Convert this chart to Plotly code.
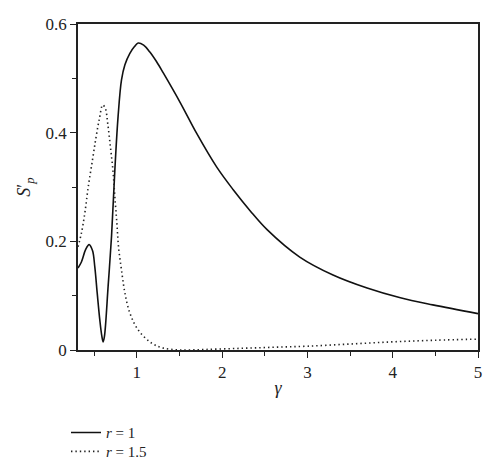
import plotly.graph_objects as go

# r = 1 (solid)
gamma_r1 = [0.31, 0.35, 0.40, 0.44, 0.48, 0.507, 0.535, 0.566, 0.59, 0.605, 0.62, 0.663, 0.703,
            0.742, 0.78, 0.82, 0.86, 0.918, 0.97, 1.015, 1.08, 1.15, 1.23, 1.31, 1.51, 1.70, 1.935,
            2.13, 2.33, 2.53, 2.91, 3.30, 3.70, 4.09, 4.47, 5.0]
sp_r1 = [0.151, 0.162, 0.185, 0.194, 0.183, 0.153, 0.105, 0.055, 0.025, 0.015, 0.025, 0.117, 0.209,
         0.331, 0.43, 0.497, 0.525, 0.546, 0.558, 0.565, 0.561, 0.549, 0.531, 0.51, 0.455, 0.399, 0.337,
         0.295, 0.256, 0.221, 0.171, 0.138, 0.114, 0.096, 0.083, 0.067]

# r = 1.5 (dotted)
gamma_r15 = [0.31, 0.35, 0.39, 0.43, 0.48, 0.52, 0.56, 0.60, 0.63, 0.66, 0.69, 0.72, 0.742,
             0.766, 0.785, 0.82, 0.86, 0.918, 1.015, 1.17, 1.30, 1.5, 1.8, 2.2, 2.6, 3.0, 3.5,
             4.0, 4.5, 5.0]
sp_r15 = [0.19, 0.215, 0.252, 0.30, 0.35, 0.39, 0.425, 0.451, 0.445, 0.415, 0.374, 0.33, 0.282,
          0.233, 0.19, 0.147, 0.105, 0.068, 0.037, 0.013, 0.004, 0.0, 0.001, 0.003, 0.005, 0.007,
          0.011, 0.015, 0.018, 0.02]

x_ticks = [1, 2, 3, 4, 5]
y_ticks = [0, 0.2, 0.4, 0.6]
y_tick_text = ["0", "0.2", "0.4", "0.6"]

FONT = "Liberation Serif, Times New Roman, serif"

fig = go.Figure()
fig.add_trace(go.Scatter(x=gamma_r1, y=sp_r1, mode="lines", name="<i>r</i> = 1", legend="legend",
                         line=dict(color="#111111", width=1.6, shape="spline", smoothing=1.0)))
fig.add_trace(go.Scatter(x=gamma_r15, y=sp_r15, mode="lines", name="<i>r</i> = 1.5", legend="legend2",
                         line=dict(color="#222222", width=1.6, dash="1.4px,3px", shape="spline", smoothing=1.0)))

legend_style = dict(xanchor="left", yanchor="top",
                    font=dict(family=FONT, size=15, color="#222222"),
                    bgcolor="rgba(0,0,0,0)", itemwidth=30)

fig.update_layout(
    width=492, height=467,
    margin=dict(l=70, r=22, t=16, b=125, autoexpand=False),
    paper_bgcolor="white", plot_bgcolor="white",
    font=dict(family=FONT, size=17, color="#222222"),
    showlegend=True,
    legend=dict(x=-0.03, y=-0.203, **legend_style),
    legend2=dict(x=-0.03, y=-0.261, **legend_style),
)
fig.update_xaxes(
    range=[0.31, 5], tickvals=x_ticks, ticktext=[str(v) for v in x_ticks],
    showline=True, linecolor="#222222", linewidth=1.5, mirror=True,
    ticks="outside", ticklen=6, tickcolor="#222222", tickwidth=1.2,
    minor=dict(dtick=0.5, tick0=0, ticks="outside", ticklen=4, tickcolor="#222222", tickwidth=1.2),
    showgrid=False, zeroline=False,
    title=dict(text="<i>γ</i>", standoff=0, font=dict(family=FONT, size=18)),
)
fig.update_yaxes(
    range=[0, 0.6], tickvals=y_ticks, ticktext=y_tick_text,
    showline=True, linecolor="#222222", linewidth=1.5, mirror=True,
    ticks="outside", ticklen=6, tickcolor="#222222", tickwidth=1.2,
    minor=dict(dtick=0.1, tick0=0, ticks="outside", ticklen=4, tickcolor="#222222", tickwidth=1.2),
    showgrid=False, zeroline=False,
    title=dict(text="<i>S</i>′<sub><i>p</i></sub>", standoff=10, font=dict(family=FONT, size=18)),
)

fig.write_html("out.html")
